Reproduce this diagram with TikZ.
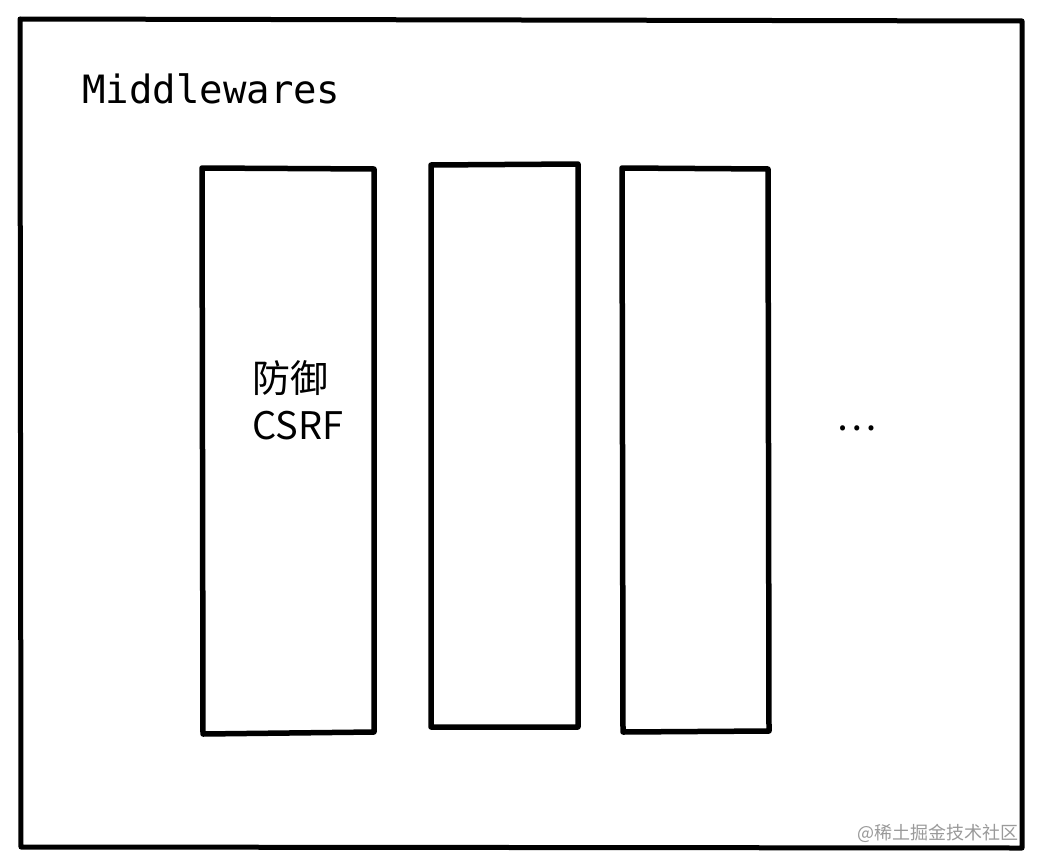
\documentclass[tikz,border=0pt]{standalone}
\usepackage{fontspec}
\usepackage{xcolor}
\usepackage{tikz}
\setmonofont{DejaVu Sans Mono}
\newfontfamily\cjk{Noto Sans CJK SC}
\definecolor{ink}{HTML}{000000}
\definecolor{mark}{HTML}{9A9A9A}
\tikzset{
  frame/.style={draw=ink, line width=5pt, line join=round, line cap=round},
  slot/.style={draw=ink, line width=5.5pt, line join=round, line cap=round},
  title/.style={font=\ttfamily\fontsize{39}{46}\selectfont, inner sep=0pt, anchor=base west},
  lbl/.style={font=\cjk\fontsize{38}{47}\selectfont, align=left, inner sep=0pt},
  wmark/.style={text=mark, font=\cjk\fontsize{18}{20}\selectfont, inner sep=0pt, anchor=east}
}
\begin{document}
\begin{tikzpicture}[x=1pt,y=-1pt]
  \useasboundingbox[fill=white] (0,0) rectangle (1043,867);

  % outer frame
  \coordinate (F1) at (20,19);
  \coordinate (F2) at (1022,21);
  \coordinate (F3) at (1022,848);
  \coordinate (F4) at (21,847);
  \draw[frame] (F1)--(F2)--(F3)--(F4)--cycle;

  % middleware slots
  \coordinate (A1) at (202,168);
  \coordinate (A2) at (374,169);
  \coordinate (A3) at (374,732);
  \coordinate (A4) at (203,734);
  \draw[slot] (A1)--(A2)--(A3)--(A4)--cycle;

  \coordinate (B1) at (431,165);
  \coordinate (B2) at (578,164);
  \coordinate (B3) at (578,727);
  \coordinate (B4) at (431,727);
  \draw[slot] (B1)--(B2)--(B3)--(B4)--cycle;

  \coordinate (C1) at (622,168);
  \coordinate (C2) at (768,169);
  \coordinate (C3) at (769,731);
  \coordinate (C4) at (623,732);
  \draw[slot] (C1)--(C2)--(C3)--(C4)--cycle;

  \node[title] (mw) at (82,103) {Middlewares};
  \node[lbl, anchor=west] (csrf) at (252,400) {防御\\CSRF};
  \node[lbl] (more) at (857,428) {…};
  \node[wmark] (wm) at (1019,833) {@稀土掘金技术社区};
\end{tikzpicture}
\end{document}
